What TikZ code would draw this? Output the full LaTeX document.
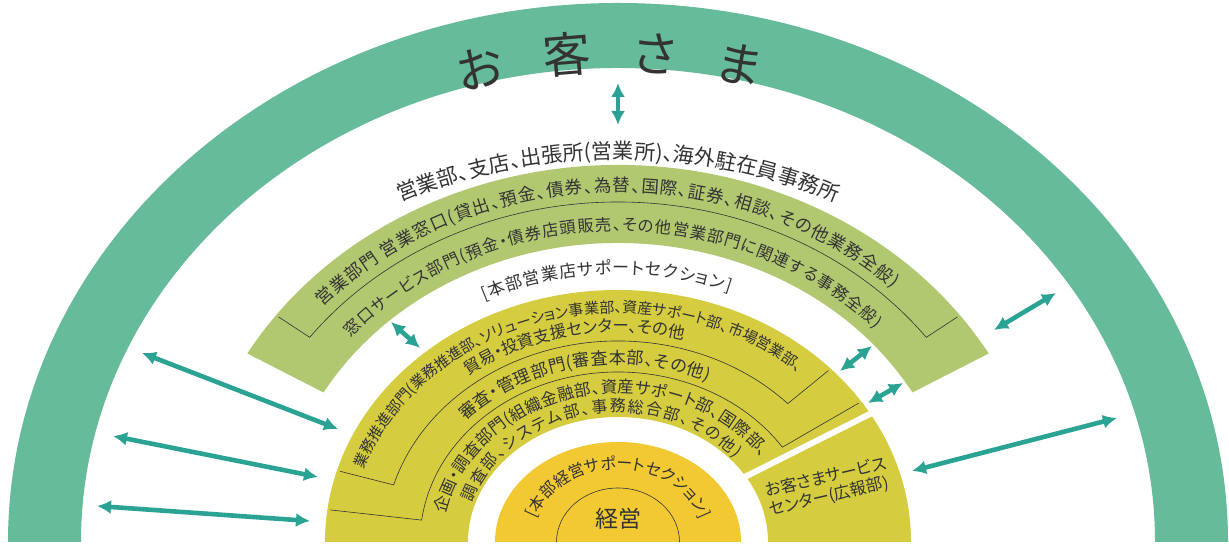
\documentclass[tikz,border=0pt]{standalone}
\usepackage{fontspec}
\usepackage{xcolor}
\usepackage{tikz}
\usetikzlibrary{arrows.meta,decorations.text}
\newfontfamily\jpfont[RawFeature=+palt]{Noto Sans CJK JP}
\definecolor{custgreen}{HTML}{66BC9A}
\definecolor{branchgreen}{HTML}{B1C871}
\definecolor{hqolive}{HTML}{D5CC40}
\definecolor{mgmtyellow}{HTML}{F2C933}
\definecolor{arrowteal}{HTML}{2BA394}
\definecolor{inkgray}{HTML}{333333}

\begin{document}
\begin{tikzpicture}[x=1pt, y=1pt,
  arrow/.style={<->, >={Latex[length=14pt,width=14pt]}, line width=4.6pt, draw=arrowteal},
  divider/.style={draw=inkgray, line width=0.6pt},
  arctext/.style 2 args={decorate, decoration={text along path, text align={fit to path},
    text color=inkgray, text={|\jpfont\fontsize{#1}{#1}\selectfont|#2}}},
  txt/.style={font=\jpfont, text=inkgray, inner sep=0pt}
]
\useasboundingbox (0,0) rectangle (1229,545);
\begin{scope}[shift={(618,3)}]

% customers band
\fill[custgreen] (180:610pt and 539pt) arc[start angle=180, end angle=0, x radius=610pt, y radius=539pt]
  -- (0:537pt and 474pt) arc[start angle=0, end angle=180, x radius=537pt, y radius=474pt] -- cycle;
\path[arctext={48pt}{お客さま}] (107:536pt and 471pt)
  arc[start angle=107, end angle=75, x radius=536pt, y radius=471pt];

% branches
\path[arctext={21pt}{営業部、支店、出張所(営業所)、海外駐在員事務所}] (117.4:473pt and 383pt)
  arc[start angle=117.4, end angle=62.6, x radius=473pt, y radius=383pt];
\fill[branchgreen] (150:428pt and 377pt) arc[start angle=150, end angle=30, x radius=428pt, y radius=377pt]
  -- (30:340pt and 299pt) arc[start angle=30, end angle=150, x radius=340pt, y radius=299pt] -- cycle;
\draw[divider] (143:425pt and 374pt) -- (143:386pt and 340pt)
  arc[start angle=143, end angle=37, x radius=386pt, y radius=340pt] -- (37:425pt and 374pt);
\path[arctext={17.5pt}{営業部門 営業窓口(貸出、預金、債券、為替、国際、証券、相談、その他業務全般)}]
  (137.8:399pt and 350pt) arc[start angle=137.8, end angle=46.5, x radius=399pt, y radius=350pt];
\path[arctext={16.3pt}{窓口サービス部門(預金・債券店頭販売、その他営業部門に関連する事務全般)}]
  (139:354pt and 311pt) arc[start angle=139, end angle=43.3, x radius=354pt, y radius=311pt];

% head office sections
\path[arctext={17pt}{[本部営業店サポートセクション]}] (115.5:311pt and 268pt)
  arc[start angle=115.5, end angle=69, x radius=311pt, y radius=268pt];
\fill[hqolive] (180:293pt and 252pt) arc[start angle=180, end angle=0, x radius=293pt, y radius=252pt]
  -- (0:150pt and 125pt) arc[start angle=0, end angle=180, x radius=150pt, y radius=125pt] -- cycle;
\draw[white, line width=6pt] (32:146pt and 120pt) -- (30.5:298pt and 257pt);
\draw[divider] (163.5:290pt and 249pt) -- (163.5:234pt and 201pt)
  arc[start angle=163.5, end angle=43.5, x radius=234pt, y radius=201pt] -- (43.5:290pt and 249pt);
\draw[divider] (172.6:290pt and 249pt) -- (172.6:198pt and 170pt)
  arc[start angle=172.6, end angle=33.9, x radius=198pt, y radius=170pt] -- (33.9:290pt and 249pt);
\path[arctext={15pt}{業務推進部門(業務推進部、ソリューション事業部、資産サポート部、市場営業部、}]
  (161.5:268pt and 229pt) arc[start angle=161.5, end angle=48, x radius=268pt, y radius=229pt];
\path[arctext={16.5pt}{貿易・投資支援センター、その他}]
  (127.5:246pt and 210pt) arc[start angle=127.5, end angle=74.5, x radius=246pt, y radius=210pt];
\path[arctext={17pt}{審査・管理部門(審査本部、その他)}]
  (137:209pt and 178pt) arc[start angle=137, end angle=64.5, x radius=209pt, y radius=178pt];
\path[arctext={16.5pt}{企画・調査部門(組織金融部、資産サポート部、国際部、}]
  (169:175pt and 149pt) arc[start angle=169, end angle=34.5, x radius=175pt, y radius=149pt];
\path[arctext={16pt}{調査部、システム部、事務総合部、その他)}]
  (162.5:153pt and 130pt) arc[start angle=162.5, end angle=40, x radius=153pt, y radius=130pt];
\node[txt, font=\jpfont\fontsize{16.5pt}{19pt}\selectfont, align=left, rotate=13]
  (svccenter) at (210,55) {お客さまサービス\\センター(広報部)};

% management
\fill[mgmtyellow] (180:123pt and 100pt) arc[start angle=180, end angle=0, x radius=123pt, y radius=100pt] -- cycle;
\draw[divider] (180:61.5pt and 54pt) arc[start angle=180, end angle=0, x radius=61.5pt, y radius=54pt];
\path[arctext={16pt}{[本部経営サポートセクション]}] (161:87pt and 73pt)
  arc[start angle=161, end angle=19, x radius=87pt, y radius=73pt];
\node[txt, font=\jpfont\fontsize{23pt}{25pt}\selectfont] (keiei) at (0,23) {経営};

% arrows
\coordinate (custtop) at (0,459);   \coordinate (branchtop) at (0,417);
\coordinate (custl1) at (-476,189); \coordinate (hql1) at (-280,113);
\coordinate (custl2) at (-505,106); \coordinate (hql2) at (-300,65);
\coordinate (custl3) at (-521,36);  \coordinate (hql3) at (-308,21);
\coordinate (branchl) at (-227,220); \coordinate (hqtl) at (-198,194);
\coordinate (hqtr) at (222,171);    \coordinate (branchr) at (254,196);
\coordinate (hqmr) at (250,139);    \coordinate (branchrr) at (285,159);
\coordinate (branchend) at (376,212); \coordinate (custr1) at (438,249);
\coordinate (svcr) at (294,71);     \coordinate (custr2) at (499,124);
\draw[arrow] (custtop) -- (branchtop);
\draw[arrow] (custl1) -- (hql1);
\draw[arrow] (custl2) -- (hql2);
\draw[arrow] (custl3) -- (hql3);
\draw[arrow] (branchl) -- (hqtl);
\draw[arrow] (hqtr) -- (branchr);
\draw[arrow] (hqmr) -- (branchrr);
\draw[arrow] (branchend) -- (custr1);
\draw[arrow] (svcr) -- (custr2);
\end{scope}
\end{tikzpicture}
\end{document}
